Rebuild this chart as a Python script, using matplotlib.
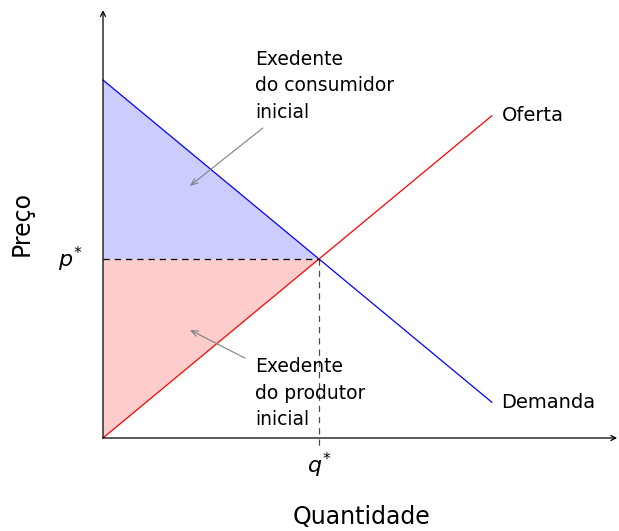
import matplotlib
matplotlib.use("Agg")
import matplotlib.pyplot as plt

# linear model: demanda P = 10 - Q, oferta P = Q
QTY = [0, 9]
DEMANDA = [10, 1]
OFERTA = [0, 9]
Q_EQ = 5
P_EQ = 5

plt.rcParams["font.family"] = ["DejaVu Sans"]
plt.rcParams["mathtext.fontset"] = "dejavusans"

fig = plt.figure(figsize=(6.19, 5.31), dpi=100)
ax = fig.add_axes([0, 0, 1, 1])
ax.set_xlim(-103 / 43.2, 516 / 43.2)
ax.set_ylim(-93 / 35.8, 438 / 35.8)
ax.axis("off")

# surplus areas
ax.fill([0, 0, Q_EQ], [DEMANDA[0], P_EQ, P_EQ], color="blue", alpha=0.2, lw=0)
ax.fill([0, 0, Q_EQ], [OFERTA[0], P_EQ, P_EQ], color="red", alpha=0.2, lw=0)

# axes with arrow heads
arrow = dict(arrowstyle="->,head_length=0.35,head_width=0.18", color="black", lw=0.9,
             shrinkA=0, shrinkB=0)
ax.annotate("", xy=(11.9, 0), xytext=(0, 0), arrowprops=arrow)
ax.annotate("", xy=(0, 11.95), xytext=(0, 0), arrowprops=arrow)

ax.plot(QTY, DEMANDA, color="blue", lw=0.9)
ax.plot(QTY, OFERTA, color="red", lw=0.9)

# equilibrium guides
ax.plot([0, Q_EQ], [P_EQ, P_EQ], color="black", lw=0.9, ls=(0, (5, 4)))
ax.plot([Q_EQ, Q_EQ], [P_EQ, -0.25], color="black", lw=0.9, ls=(0, (5, 4)), alpha=0.7)

ax.annotate("Oferta", (QTY[-1], OFERTA[-1]), xytext=(7, 0), textcoords="offset points",
            ha="left", va="center", fontsize=14)
ax.annotate("Demanda", (QTY[-1], DEMANDA[-1]), xytext=(7, 0), textcoords="offset points",
            ha="left", va="center", fontsize=14)
ax.annotate("$p^{*}$", (0, P_EQ), xytext=(-15, 0), textcoords="offset points",
            ha="right", va="center", fontsize=16)
ax.annotate("$q^{*}$", (Q_EQ, 0), xytext=(0, -9), textcoords="offset points",
            ha="center", va="top", fontsize=16)

fig.text(22 / 619, 1 - 224 / 531, "Preço", rotation=90, ha="center", va="center", fontsize=17)
fig.text(362 / 619, 1 - 517 / 531, "Quantidade", ha="center", va="center", fontsize=17)

gray = dict(arrowstyle="->,head_length=0.5,head_width=0.2", color="gray", lw=0.8,
            shrinkA=0, shrinkB=0)
ax.text(3.52, 10.85, "Exedente\ndo consumidor\ninicial", ha="left", va="top",
        fontsize=13.5, linespacing=1.5)
ax.annotate("", xy=(2.01, 7.04), xytext=(3.70, 8.66), arrowprops=gray)
ax.text(3.52, 2.25, "Exedente\ndo produtor\ninicial", ha="left", va="top",
        fontsize=13.5, linespacing=1.5)
ax.annotate("", xy=(2.01, 3.02), xytext=(3.29, 2.23), arrowprops=gray)

fig.savefig("out.png", dpi=100)
